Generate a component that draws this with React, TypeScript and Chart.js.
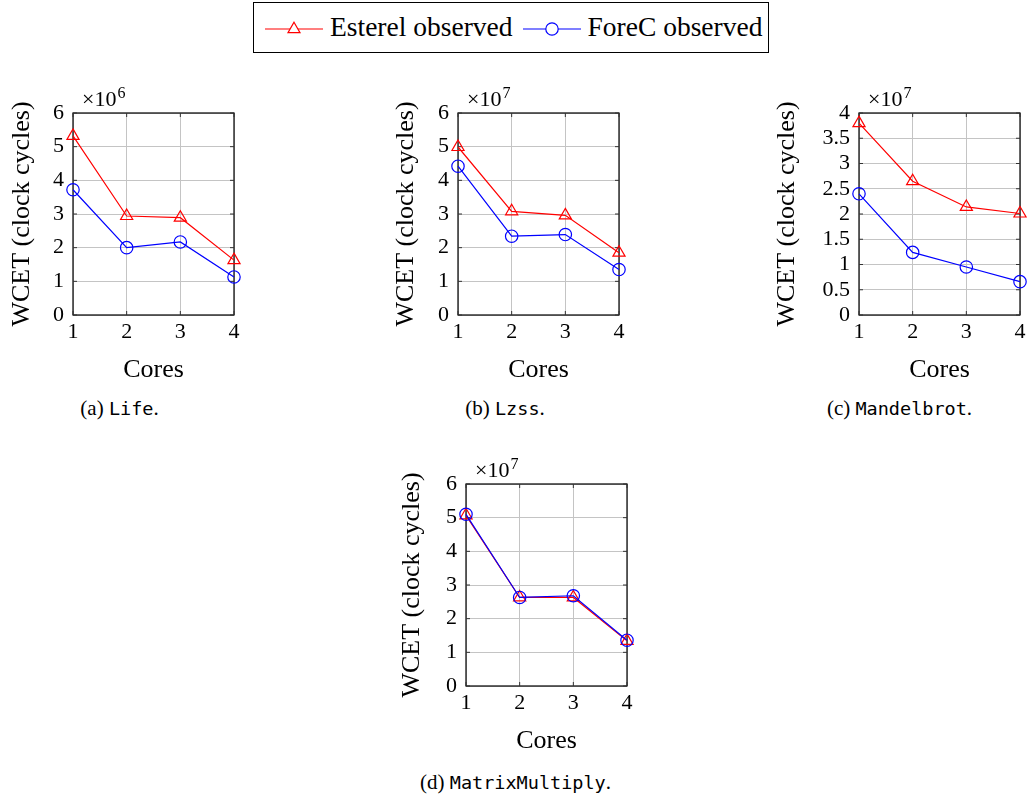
import React, { useEffect, useRef } from 'react';
import { Chart, registerables } from 'chart.js';
Chart.register(...registerables);

const cores = ['1', '2', '3', '4'];
const lifeEsterel = [5.32, 2.94, 2.89, 1.63];
const lifeForeC = [3.72, 2.0, 2.17, 1.13];
const lzssEsterel = [4.99, 3.08, 2.96, 1.85];
const lzssForeC = [4.42, 2.34, 2.39, 1.35];
const mandelEsterel = [3.8, 2.65, 2.14, 2.01];
const mandelForeC = [2.4, 1.24, 0.95, 0.66];
const matrixEsterel = [5.07, 2.63, 2.63, 1.34];
const matrixForeC = [5.1, 2.63, 2.68, 1.36];
const seriesLabels = ['Esterel observed', 'ForeC observed'];
const yTitle = 'WCET (clock cycles)';
const xTitle = 'Cores';

const SERIF = '"Liberation Serif", "DejaVu Serif", serif';
const MONO = '"DejaVu Sans Mono", "Liberation Mono", monospace';
const RED = '#ff0000';
const BLUE = '#0000ff';

const OFFX = 90;
const OFFY = 30;
const AREA_W = 161;
const AREA_H = 202;
const XSCALE_H = 80;
const PAD_R = 12;
const CW = OFFX + AREA_W + PAD_R;
const CH = OFFY + AREA_H + XSCALE_H;
const TICK_SIZE = 22;
const TITLE_SIZE = 26;
const TITLE_HALF = (TITLE_SIZE * 1.2) / 2;

type Panel = {
  esterel: number[];
  forec: number[];
  yMax: number;
  yStep: number;
  exponent: string;
  areaLeft: number;
  areaTop: number;
  titleGap: number;
};

function Subplot({ p }: { p: Panel }) {
  const ref = useRef<HTMLCanvasElement>(null);
  useEffect(() => {
    if (!ref.current) return;
    const framePlugin = {
      id: 'frame',
      beforeDatasetsDraw(chart: any) {
        const { ctx, chartArea } = chart;
        ctx.save();
        ctx.strokeStyle = '#000';
        ctx.lineWidth = 1.2;
        ctx.strokeRect(chartArea.left, chartArea.top, chartArea.right - chartArea.left, chartArea.bottom - chartArea.top);
        const ys = chart.scales.y;
        const xs = chart.scales.x;
        ctx.strokeStyle = '#333';
        ctx.lineWidth = 1;
        ys.ticks.forEach((_t: any, i: number) => {
          const y = ys.getPixelForTick(i);
          ctx.beginPath();
          ctx.moveTo(chartArea.left, y);
          ctx.lineTo(chartArea.left + 4, y);
          ctx.moveTo(chartArea.right, y);
          ctx.lineTo(chartArea.right - 4, y);
          ctx.stroke();
        });
        xs.ticks.forEach((_t: any, i: number) => {
          const x = xs.getPixelForTick(i);
          ctx.beginPath();
          ctx.moveTo(x, chartArea.bottom);
          ctx.lineTo(x, chartArea.bottom - 4);
          ctx.moveTo(x, chartArea.top);
          ctx.lineTo(x, chartArea.top + 4);
          ctx.stroke();
        });
        ctx.restore();
      },
      afterDraw(chart: any) {
        const { ctx, chartArea } = chart;
        ctx.save();
        ctx.fillStyle = '#000';
        ctx.textBaseline = 'alphabetic';
        ctx.textAlign = 'left';
        ctx.font = `22px ${SERIF}`;
        const bx = chartArea.left + 9;
        const by = chartArea.top - 7;
        const base = '\u00d710';
        ctx.fillText(base, bx, by);
        const w = ctx.measureText(base).width;
        ctx.font = `16px ${SERIF}`;
        ctx.fillText(p.exponent, bx + w + 1, by - 8);
        ctx.restore();
      },
    };
    const chart = new Chart(ref.current, {
      type: 'line',
      data: {
        labels: cores,
        datasets: [
          {
            label: seriesLabels[0],
            data: p.esterel,
            borderColor: RED,
            backgroundColor: 'rgba(0,0,0,0)',
            borderWidth: 1.2,
            pointStyle: 'triangle',
            pointRadius: 7,
            pointBorderWidth: 1.2,
            pointBackgroundColor: 'rgba(0,0,0,0)',
            pointBorderColor: RED,
            tension: 0,
            clip: false,
            order: 1,
          },
          {
            label: seriesLabels[1],
            data: p.forec,
            borderColor: BLUE,
            backgroundColor: 'rgba(0,0,0,0)',
            borderWidth: 1.2,
            pointStyle: 'circle',
            pointRadius: 6.2,
            pointBorderWidth: 1.2,
            pointBackgroundColor: 'rgba(0,0,0,0)',
            pointBorderColor: BLUE,
            tension: 0,
            clip: false,
            order: 0,
          },
        ],
      },
      options: {
        animation: false,
        responsive: false,
        maintainAspectRatio: false,
        devicePixelRatio: 1,
        layout: { padding: { left: 0, top: OFFY, right: PAD_R, bottom: 0 } },
        plugins: { legend: { display: false }, tooltip: { enabled: false } },
        scales: {
          x: {
            type: 'category',
            offset: false,
            grid: { color: '#c4c4c4', lineWidth: 1, drawTicks: false },
            border: { display: false },
            ticks: { color: '#000', font: { family: SERIF, size: TICK_SIZE }, padding: 4.5, autoSkip: false, maxRotation: 0 },
            title: { display: true, text: xTitle, color: '#000', font: { family: SERIF, size: TITLE_SIZE }, padding: { top: 0, bottom: XSCALE_H - 55 - TITLE_HALF } },
            afterFit(scale: any) { scale.height = XSCALE_H; },
          },
          y: {
            type: 'linear',
            min: 0,
            max: p.yMax,
            grid: { color: '#c4c4c4', lineWidth: 1, drawTicks: false },
            border: { display: false },
            ticks: {
              stepSize: p.yStep,
              autoSkip: false,
              color: '#000',
              font: { family: SERIF, size: TICK_SIZE },
              padding: 9,
              callback: (v: any) => String(Math.round(Number(v) * 100) / 100),
            },
            title: { display: true, text: yTitle, color: '#000', font: { family: SERIF, size: TITLE_SIZE }, padding: { top: OFFX - p.titleGap - TITLE_HALF, bottom: 0 } },
            afterFit(scale: any) { scale.width = OFFX; },
          },
        },
      },
      plugins: [framePlugin],
    } as any);
    return () => chart.destroy();
  }, [p]);
  return (
    <canvas
      ref={ref}
      width={CW}
      height={CH}
      style={{ position: 'absolute', left: p.areaLeft - OFFX, top: p.areaTop - OFFY, width: CW, height: CH }}
    />
  );
}

const panels: Panel[] = [
  { esterel: lifeEsterel, forec: lifeForeC, yMax: 6, yStep: 1, exponent: '6', areaLeft: 73, areaTop: 113, titleGap: 51 },
  { esterel: lzssEsterel, forec: lzssForeC, yMax: 6, yStep: 1, exponent: '7', areaLeft: 457.5, areaTop: 113, titleGap: 51.5 },
  { esterel: mandelEsterel, forec: mandelForeC, yMax: 4, yStep: 0.5, exponent: '7', areaLeft: 859, areaTop: 113, titleGap: 71.5 },
  { esterel: matrixEsterel, forec: matrixForeC, yMax: 6, yStep: 1, exponent: '7', areaLeft: 466, areaTop: 484, titleGap: 53.5 },
];

const captions = [
  { letter: '(a)', name: 'Life', cx: 119.5, cy: 408 },
  { letter: '(b)', name: 'Lzss', cx: 505, cy: 408 },
  { letter: '(c)', name: 'Mandelbrot', cx: 899.5, cy: 408 },
  { letter: '(d)', name: 'MatrixMultiply', cx: 515.5, cy: 782 },
];

function Caption({ c }: { c: typeof captions[number] }) {
  return (
    <div
      style={{
        position: 'absolute',
        left: c.cx - 200,
        width: 400,
        top: c.cy - 12,
        height: 24,
        lineHeight: '24px',
        textAlign: 'center',
        fontFamily: SERIF,
        fontSize: 21,
        color: '#000',
        whiteSpace: 'nowrap',
      }}
    >
      {c.letter}{' '}
      <span style={{ fontFamily: MONO, fontSize: 18.5 }}>{c.name}</span>.
    </div>
  );
}

function LegendMarker({ color, kind }: { color: string; kind: 'triangle' | 'circle' }) {
  return (
    <svg width={58} height={20} style={{ display: 'block' }}>
      <line x1={0} y1={10} x2={58} y2={10} stroke={color} strokeWidth={1.2} />
      {kind === 'triangle' ? (
        <polygon points="29,3.2 35,13.6 23,13.6" fill="white" stroke={color} strokeWidth={1.2} />
      ) : (
        <circle cx={29} cy={10} r={6.2} fill="white" stroke={color} strokeWidth={1.2} />
      )}
    </svg>
  );
}

export default function App() {
  return (
    <div style={{ position: 'absolute', left: 0, top: 0, width: 1033, height: 800, overflow: 'hidden', background: '#fff' }}>
      <div
        style={{
          position: 'absolute',
          left: 253,
          top: 2,
          width: 516,
          height: 51,
          border: '1.2px solid #000',
          boxSizing: 'border-box',
        }}
      >
        <div style={{ position: 'absolute', left: 11, top: 15.5 }}>
          <LegendMarker color={RED} kind="triangle" />
        </div>
        <div style={{ position: 'absolute', left: 76, top: 8, fontFamily: SERIF, fontSize: 27.5, lineHeight: '32px', whiteSpace: 'nowrap' }}>
          {seriesLabels[0]}
        </div>
        <div style={{ position: 'absolute', left: 268.5, top: 15.5 }}>
          <LegendMarker color={BLUE} kind="circle" />
        </div>
        <div style={{ position: 'absolute', left: 333.5, top: 8, fontFamily: SERIF, fontSize: 27.5, lineHeight: '32px', whiteSpace: 'nowrap' }}>
          {seriesLabels[1]}
        </div>
      </div>
      {panels.map((p, i) => (
        <Subplot key={i} p={p} />
      ))}
      {captions.map((c, i) => (
        <Caption key={i} c={c} />
      ))}
    </div>
  );
}
